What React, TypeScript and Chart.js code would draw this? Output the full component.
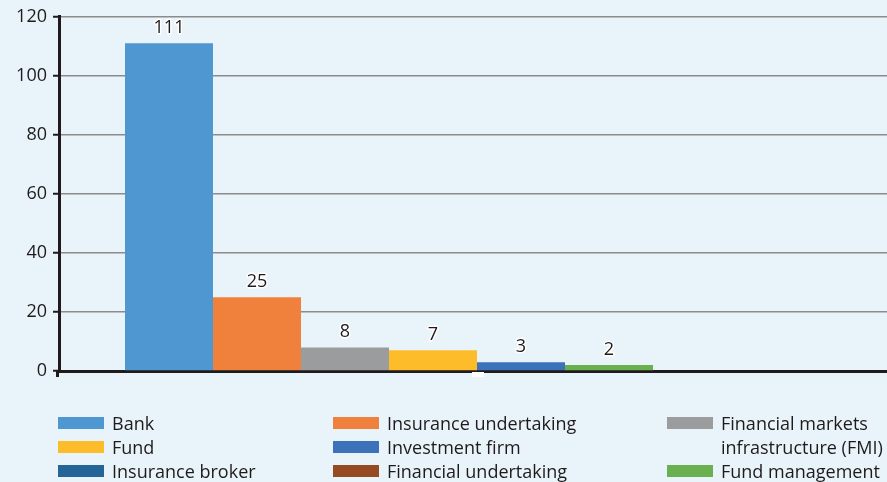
import React, { useEffect, useRef } from 'react';
import { Chart, registerables } from 'chart.js';

Chart.register(...registerables);

const categories = [''];
const seriesNames = [
  'Bank',
  'Insurance undertaking',
  'Financial markets infrastructure (FMI)',
  'Fund',
  'Investment firm',
  'Fund management',
  'Insurance broker',
  'Financial undertaking',
];
const seriesValues = [111, 25, 8, 7, 3, 2, 0, 0];
const seriesColors = ['#4f97d1', '#f0813c', '#9a9c9d', '#fdbd2a', '#3b72b9', '#6ab04f', '#246496', '#964a22'];
const legendOrder = [
  'Bank', 'Insurance undertaking', 'Financial markets infrastructure (FMI)',
  'Fund', 'Investment firm', '',
  'Insurance broker', 'Financial undertaking', 'Fund management',
];
const legendLines: Record<string, string[]> = {
  'Financial markets infrastructure (FMI)': ['Financial markets', 'infrastructure (FMI)'],
};
const yMin = 0;
const yMax = 120;
const yStep = 20;

const FONT = '"Open Sans", "DejaVu Sans", sans-serif';
const TEXT = '#1f1b1c';
const BG = '#e9f3fa';

const legendCols = [58, 333, 667];
const legendRowTop = 411;
const legendRowGap = 24;

export default function App() {
  const ref = useRef<HTMLCanvasElement | null>(null);

  useEffect(() => {
    if (!ref.current) return;
    const labelPlugin = {
      id: 'valueLabels',
      afterDatasetsDraw(chart: any) {
        const ctx = chart.ctx;
        ctx.save();
        ctx.font = `18px ${FONT}`;
        ctx.textAlign = 'center';
        ctx.textBaseline = 'alphabetic';
        ctx.lineJoin = 'round';
        chart.data.datasets.forEach((ds: any, i: number) => {
          const meta = chart.getDatasetMeta(i);
          meta.data.forEach((el: any, j: number) => {
            const v = ds.data[j];
            if (!v) return;
            const x = el.x;
            const y = el.y - 10;
            ctx.strokeStyle = '#ffffff';
            ctx.lineWidth = 3;
            ctx.strokeText(String(v), x, y);
            ctx.fillStyle = TEXT;
            ctx.fillText(String(v), x, y);
          });
        });
        ctx.restore();
      },
      afterDraw(chart: any) {
        const ctx = chart.ctx;
        const a = chart.chartArea;
        ctx.save();
        ctx.strokeStyle = TEXT;
        ctx.lineWidth = 3;
        ctx.beginPath();
        ctx.moveTo(a.left - 1.5, a.bottom - 1);
        ctx.lineTo(a.left - 1.5, a.bottom + 6);
        ctx.stroke();
        // small white category tick below the axis
        const cx = chart.scales.x.getPixelForValue(0);
        ctx.fillStyle = '#ffffff';
        ctx.fillRect(Math.round(cx) - 5, a.bottom + 1, 12, 5);
        ctx.restore();
      },
    };

    const chart = new Chart(ref.current, {
      type: 'bar',
      data: {
        labels: categories,
        datasets: seriesNames.map((name, i) => ({
          label: name,
          data: [seriesValues[i]],
          backgroundColor: seriesColors[i],
          borderWidth: 0,
          barPercentage: 1,
          categoryPercentage: 704 / 836,
        })),
      },
      options: {
        responsive: false,
        animation: false,
        layout: { padding: { left: 0, right: 10, top: 16, bottom: 111 } },
        plugins: {
          legend: { display: false },
          tooltip: { enabled: false },
        },
        scales: {
          x: {
            type: 'category',
            z: 1,
            afterFit: (s: any) => { s.height = 0; },
            ticks: { display: false },
            grid: { display: false },
            border: { display: true, color: TEXT, width: 3 },
          },
          y: {
            min: yMin,
            max: yMax,
            afterFit: (s: any) => { s.width = 59; },
            ticks: {
              stepSize: yStep,
              color: TEXT,
              font: { family: FONT, size: 18 },
              padding: 6,
            },
            grid: {
              color: '#8c8c8c',
              lineWidth: 1.5,
              borderDash: [2, 4],
              tickColor: TEXT,
              tickWidth: 2,
              tickLength: 6,
              tickBorderDash: [],
            } as any,
            border: { display: true, color: TEXT, width: 3 },
          },
        },
      } as any,
      plugins: [labelPlugin],
    });
    return () => chart.destroy();
  }, []);

  return (
    <div
      style={{
        position: 'fixed',
        left: 0,
        top: 0,
        width: 887,
        height: 482,
        overflow: 'hidden',
        background: BG,
        fontFamily: FONT,
      }}
    >
      <canvas ref={ref} width={905} height={482} style={{ position: 'absolute', left: 0, top: 0 }} />
      {legendOrder.map((name, k) => {
        if (!name) return null;
        const col = k % 3;
        const row = Math.floor(k / 3);
        const idx = seriesNames.indexOf(name);
        const lines = legendLines[name] || [name];
        return (
          <div
            key={name}
            style={{
              position: 'absolute',
              left: legendCols[col],
              top: legendRowTop + row * legendRowGap,
              display: 'flex',
              alignItems: 'flex-start',
              whiteSpace: 'nowrap',
            }}
          >
            <div
              style={{
                width: 46,
                height: 12,
                marginTop: 6,
                background: seriesColors[idx],
                flex: 'none',
              }}
            />
            <div style={{ marginLeft: 8, fontSize: 18, lineHeight: '24px', color: TEXT }}>
              {lines.map((l) => (
                <div key={l}>{l}</div>
              ))}
            </div>
          </div>
        );
      })}
    </div>
  );
}
